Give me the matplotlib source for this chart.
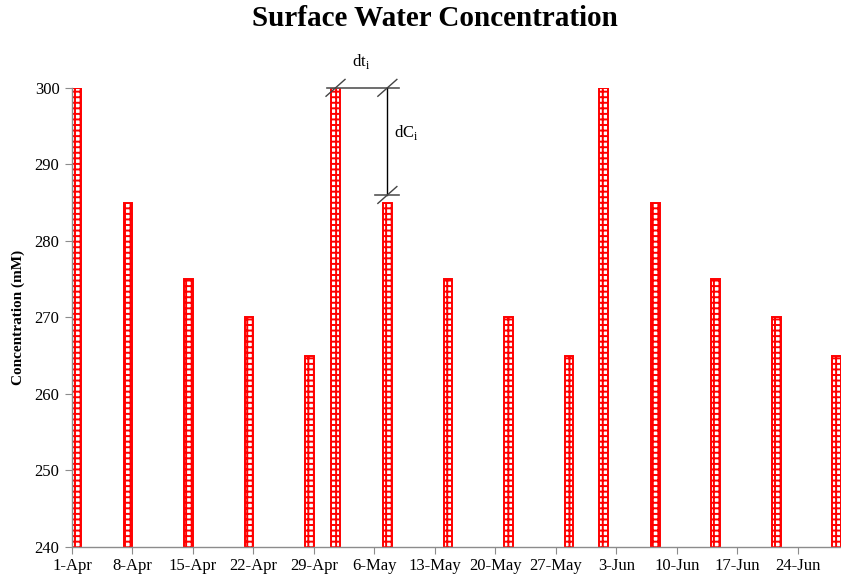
import datetime as dt
import matplotlib
matplotlib.use("Agg")
import matplotlib.pyplot as plt
import matplotlib.dates as mdates

# Sampling dates and measured surface-water concentrations (mM)
sample_dates = ["2013-04-01", "2013-04-07", "2013-04-14", "2013-04-21", "2013-04-28",
                "2013-05-01", "2013-05-07", "2013-05-14", "2013-05-21", "2013-05-28",
                "2013-06-01", "2013-06-07", "2013-06-14", "2013-06-21", "2013-06-28"]
concentration = [300, 285, 275, 270, 265,
                 300, 285, 275, 270, 265,
                 300, 285, 275, 270, 265]

tick_dates = ["2013-04-01", "2013-04-08", "2013-04-15", "2013-04-22", "2013-04-29",
              "2013-05-06", "2013-05-13", "2013-05-20", "2013-05-27", "2013-06-03",
              "2013-06-10", "2013-06-17", "2013-06-24"]
y_ticks = [240, 250, 260, 270, 280, 290, 300]

serif = ["Liberation Serif", "DejaVu Serif"]
plt.rcParams["font.family"] = serif
plt.rcParams["hatch.linewidth"] = 1.4

fig = plt.figure(figsize=(8.41, 5.79), dpi=100)
ax = fig.add_axes([0.0856, 0.0553, 0.9144, 0.793])

# bars are drawn at mid-day of each sampling date
x = [mdates.date2num(dt.datetime.fromisoformat(d)) + 0.5 for d in sample_dates]
ax.bar(x, concentration, width=1.0, bottom=0,
       facecolor="white", edgecolor="red", hatch="+++", linewidth=1.4, zorder=2)

start = mdates.date2num(dt.datetime.fromisoformat(tick_dates[0]))
ax.set_xlim(start, start + 89.0)
ax.set_ylim(240, 300)
ax.set_xticks([mdates.date2num(dt.datetime.fromisoformat(d)) for d in tick_dates])
ax.xaxis.set_major_formatter(
    plt.FuncFormatter(lambda v, p: f"{mdates.num2date(v).day}-{mdates.num2date(v).strftime('%b')}"))
ax.set_yticks(y_ticks)

for s in ["top", "right"]:
    ax.spines[s].set_visible(False)
for s in ["left", "bottom"]:
    ax.spines[s].set_color("#8c8c8c")
    ax.spines[s].set_linewidth(1.0)
ax.tick_params(axis="both", colors="#8c8c8c", labelcolor="black", labelsize=12, length=5)
ax.tick_params(axis="x", pad=3)
ax.tick_params(axis="y", pad=4)

ax.set_ylabel("Concentration (mM)", fontsize=11, fontweight="bold", labelpad=7)
fig.text(0.517, 0.968, "Surface Water Concentration", fontsize=21, fontweight="bold",
         ha="center", va="center")

# dt / dC annotation between the 1-May and 7-May samples
x0, x1 = x[5], x[6]
y_top, y_low = concentration[5], concentration[6] + 1
ax.plot([x0 - 1.0, x1 + 1.3], [y_top, y_top], color="#555555", lw=1.2, clip_on=False, zorder=3)
ax.plot([x1, x1], [y_top, y_low], color="black", lw=1.0, clip_on=False, zorder=3)
ax.plot([x1 - 1.4, x1 + 1.3], [y_low, y_low], color="#555555", lw=1.2, clip_on=False, zorder=3)
for (cx, cy) in [(x0, y_top), (x1, y_top), (x1, y_low)]:
    ax.plot([cx - 1.1, cx + 1.1], [cy - 1.1, cy + 1.1], color="#444444", lw=1.0,
            clip_on=False, zorder=3)
ax.text((x0 + x1) / 2, y_top + 2.2, r"dt$_\mathregular{i}$", ha="center", va="bottom", fontsize=12)
ax.text(x1 + 0.8, (y_top + y_low) / 2 + 1.2, r"dC$_\mathregular{i}$", ha="left", va="center", fontsize=12)

fig.savefig("out.png", dpi=100)
